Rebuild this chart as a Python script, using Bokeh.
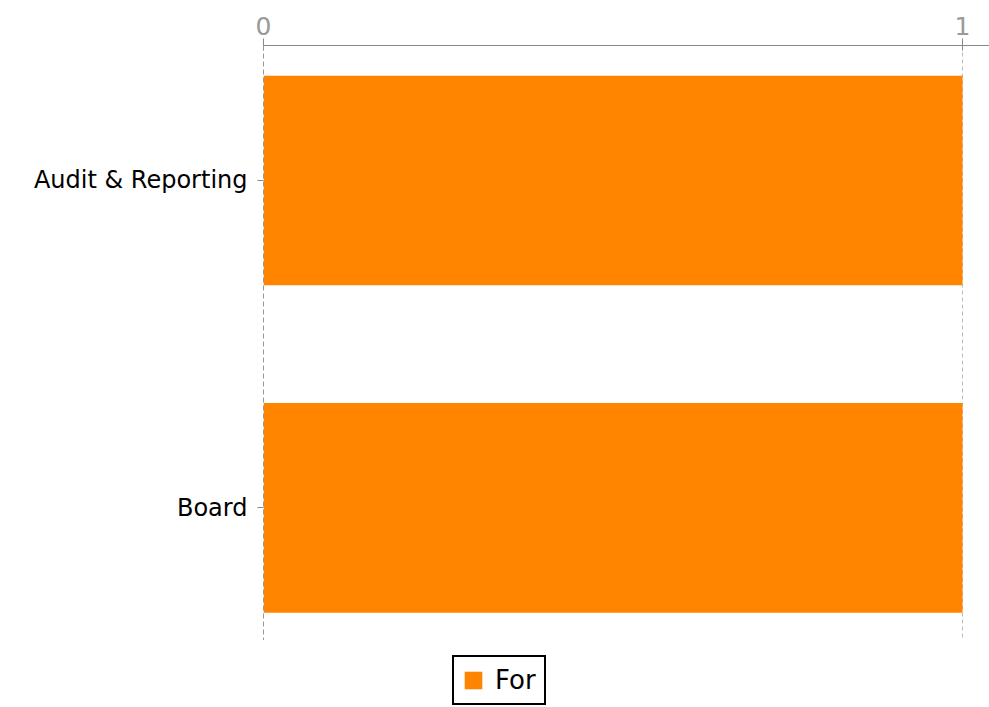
from bokeh.plotting import figure
from bokeh.layouts import column
from bokeh.models import Range1d, FixedTicker, Legend, LegendItem, ColumnDataSource
from bokeh.embed import file_html
from bokeh.resources import INLINE

categories = ["Audit & Reporting", "Board"]
for_values = [1, 1]
x_ticks = [0, 1]
series_name = "For"
series_color = "#ff8500"

positions = list(range(len(categories)))
src = ColumnDataSource(dict(y=positions, right=for_values, left=[0] * len(categories), cat=categories))

p = figure(width=989, height=640, output_backend="svg", toolbar_location=None,
           x_range=Range1d(0, 1.0386), y_range=Range1d(1.405, -0.412),
           x_axis_location="above", min_border_left=263, min_border_right=0,
           min_border_top=45, min_border_bottom=0)
p.outline_line_color = None

r = p.hbar(y="y", left="left", right="right", height=0.64, source=src,
           fill_color=series_color, line_color=None)

xa = p.xaxis[0]
xa.ticker = FixedTicker(ticks=x_ticks)
xa.axis_line_color = "#888888"
xa.major_tick_line_color = "#888888"
xa.major_tick_out = 7
xa.major_tick_in = 5
xa.minor_tick_line_color = None
xa.major_label_text_color = "#999999"
xa.major_label_text_font = "DejaVu Sans"
xa.major_label_text_font_size = "25px"
xa.major_label_standoff = 4

ya = p.yaxis[0]
ya.ticker = FixedTicker(ticks=positions)
ya.major_label_overrides = {i: c for i, c in enumerate(categories)}
ya.axis_line_color = "#999999"
ya.axis_line_dash = "5 3"
ya.major_tick_line_color = "#888888"
ya.major_tick_out = 6
ya.major_tick_in = 0
ya.minor_tick_line_color = None
ya.major_label_text_color = "#000000"
ya.major_label_text_font = "DejaVu Sans"
ya.major_label_text_font_size = "24px"
ya.major_label_standoff = 10

p.ygrid.grid_line_color = None
p.xgrid.grid_line_color = "#bbbbbb"
p.xgrid.grid_line_dash = "4 3"

# legend strip below the chart
lg = figure(width=989, height=67, output_backend="svg", toolbar_location=None,
            x_range=Range1d(0, 1), y_range=Range1d(0, 1),
            min_border_left=0, min_border_right=0, min_border_top=0, min_border_bottom=0)
lg.axis.visible = False
lg.grid.grid_line_color = None
lg.outline_line_color = None
# off-screen sample glyph for the legend swatch
dummy = lg.hbar(y=[-50], left=[0], right=for_values[:1], height=0.5,
                fill_color=series_color, line_color=None)

legend = Legend(items=[LegendItem(label=series_name, renderers=[dummy])],
                location=(189, 2), orientation="horizontal",
                border_line_color="#000000", border_line_width=2, border_line_alpha=1.0,
                label_text_font="DejaVu Sans", label_text_font_size="26px",
                label_text_color="#000000",
                glyph_width=22, glyph_height=22, padding=8, margin=0,
                label_standoff=11, background_fill_alpha=1.0)
lg.add_layout(legend, "center")

open("out.html", "w").write(file_html(column(p, lg, spacing=0), INLINE))
